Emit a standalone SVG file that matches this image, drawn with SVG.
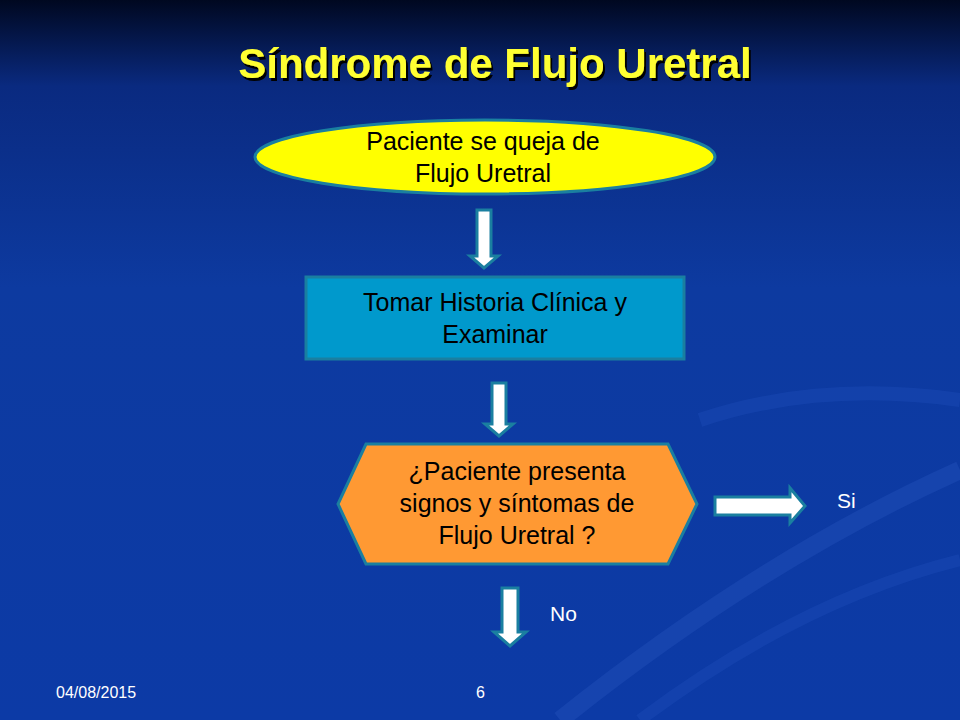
<svg xmlns="http://www.w3.org/2000/svg" width="960" height="720" viewBox="0 0 960 720">
<defs>
<linearGradient id="bg" x1="0" y1="0" x2="0" y2="1">
<stop offset="0" stop-color="#000820"/><stop offset="0.12" stop-color="#0a2a80"/><stop offset="0.4" stop-color="#0d3aa0"/><stop offset="1" stop-color="#0c3aa6"/>
</linearGradient>
<filter id="sh" x="-5%" y="-20%" width="110%" height="150%"><feDropShadow dx="2" dy="3" stdDeviation="0.5" flood-color="#000"/></filter>
<style>
text{font-family:"Liberation Sans",Arial,sans-serif;}
.t{font-size:25px;fill:#000;text-anchor:middle}
.arr{fill:#fff;stroke:#1a7fa0;stroke-width:3}
.lbl{font-size:21px;fill:#fff}
</style>
</defs>
<rect width="960" height="720" fill="url(#bg)"/>
<path d="M560 720 Q760 560 960 470" fill="none" stroke="#1f4db8" stroke-width="18" opacity="0.5"/>
<path d="M640 720 Q800 600 960 560" fill="none" stroke="#1f4db8" stroke-width="12" opacity="0.4"/>
<path d="M700 420 Q820 380 960 400" fill="none" stroke="#1f4db8" stroke-width="14" opacity="0.4"/>
<text x="495" y="78" font-size="42" font-weight="bold" fill="#ffff33" text-anchor="middle" filter="url(#sh)">Síndrome de Flujo Uretral</text>
<g id="n1">
<ellipse cx="485" cy="157" rx="230" ry="37" fill="#ffff00" stroke="#1a7fa0" stroke-width="3"/>
<text class="t" x="483" y="150">Paciente se queja de</text>
<text class="t" x="483" y="182">Flujo Uretral</text>
</g>
<g id="n2">
<rect x="306" y="277" width="378" height="82" fill="#0099cc" stroke="#1a7fa0" stroke-width="3"/>
<text class="t" x="495" y="311">Tomar Historia Clínica y</text>
<text class="t" x="495" y="343">Examinar</text>
</g>
<g id="n3">
<polygon points="366,444 668,444 697,504 668,564 366,564 338,504" fill="#ff9933" stroke="#1a7fa0" stroke-width="3"/>
<text class="t" x="517" y="480">¿Paciente presenta</text>
<text class="t" x="517" y="512">signos  y síntomas de</text>
<text class="t" x="517" y="544">Flujo Uretral ?</text>
</g>
<g id="connectors">
<polygon class="arr" points="477,210 491,210 491,256 498,256 484,268 470,256 477,256"/>
<polygon class="arr" points="492,383 506,383 506,424 513,424 499,436 485,424 492,424"/>
<polygon class="arr" points="715,497 790,497 790,488 805,506 790,523 790,515 715,515"/>
<polygon class="arr" points="502,588 518,588 518,632 526,632 510,646 494,632 502,632"/>
</g>
<text class="lbl" x="837" y="508">Si</text>
<text class="lbl" x="550" y="621">No</text>
<text x="56" y="698" font-size="16" fill="#fff">04/08/2015</text>
<text x="476" y="698" font-size="16" fill="#fff">6</text>
</svg>
